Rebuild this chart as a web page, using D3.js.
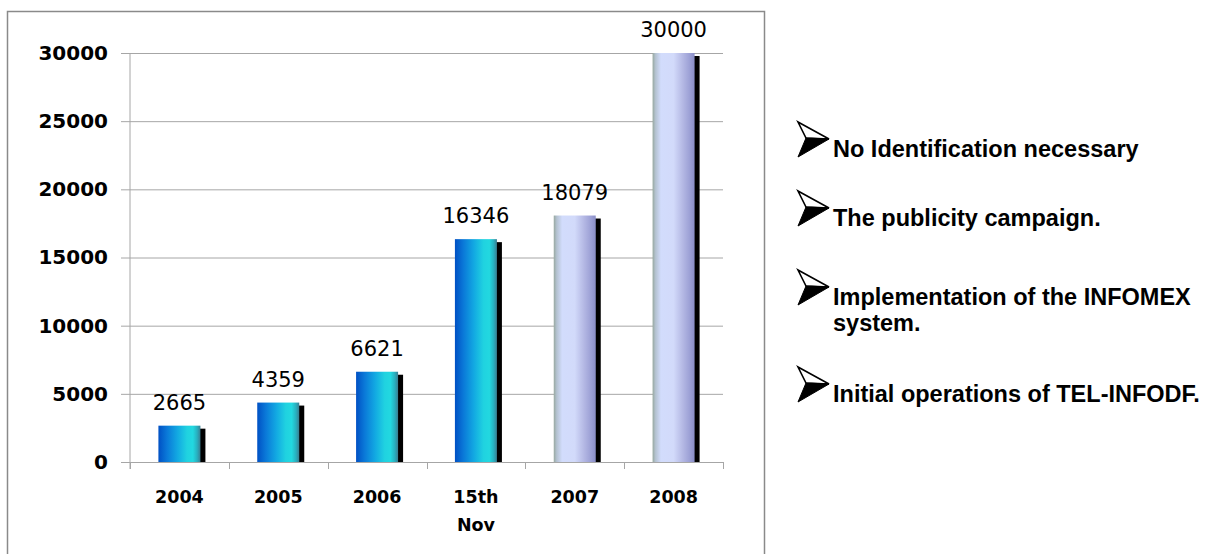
<!DOCTYPE html>
<html>
<head>
<meta charset="utf-8">
<script src="https://cdn.jsdelivr.net/npm/d3@7"></script>
<style>
  html, body { margin: 0; padding: 0; background: #fff; }
  svg { display: block; }
</style>
</head>
<body>
<svg id="chart" width="1224" height="554"></svg>
<script>
// Access-to-information requests per year
const categories = ["2004", "2005", "2006", "15th Nov", "2007", "2008"];
const requests = [2665, 4359, 6621, 16346, 18079, 30000];
const barGroups = ["early", "early", "early", "early", "late", "late"];
const yTickValues = [0, 5000, 10000, 15000, 20000, 25000, 30000];
const notes = [
  ["No Identification necessary"],
  ["The publicity campaign."],
  ["Implementation of the INFOMEX", "system."],
  ["Initial operations of TEL-INFODF."]
];

const svg = d3.select("#chart");
const defs = svg.append("defs");

// Cylinder-like horizontal gradients for the two bar groups
const gradients = {
  early: [
    [0, "#0050c4"], [0.2, "#0a78d8"], [0.45, "#12a8e2"], [0.68, "#20d2e0"],
    [0.82, "#22d8e0"], [0.92, "#28b0c0"], [1, "#3a7e92"]
  ],
  late: [
    [0, "#97a8a0"], [0.07, "#b4c2d0"], [0.2, "#d2dcfc"], [0.5, "#d2dafa"],
    [0.72, "#b4b8e4"], [0.9, "#9a9ed4"], [1, "#8a8ec6"]
  ]
};
Object.entries(gradients).forEach(([key, stops]) => {
  const g = defs.append("linearGradient")
    .attr("id", "grad-" + key)
    .attr("x1", "0%").attr("x2", "100%").attr("y1", "0%").attr("y2", "0%");
  stops.forEach(([o, c]) => g.append("stop").attr("offset", o).attr("stop-color", c));
});

// Chart frame
svg.append("rect")
  .attr("x", 7.5).attr("y", 11.5)
  .attr("width", 757).attr("height", 600)
  .attr("fill", "none").attr("stroke", "#8a8a8a").attr("stroke-width", 1.5);

const plotLeft = 130, plotRight = 723, plotTop = 53, plotBottom = 462;

const x = d3.scaleBand()
  .domain(categories)
  .range([plotLeft, plotRight])
  .paddingInner(0.575)
  .paddingOuter(0.2875);

const y = d3.scaleLinear()
  .domain([0, 30000])
  .range([plotBottom, plotTop]);

// Horizontal gridlines
const grid = svg.append("g")
  .attr("transform", `translate(${plotLeft},0)`)
  .call(d3.axisLeft(y).tickValues(yTickValues.filter(v => v > 0)).tickSize(-(plotRight - plotLeft)).tickFormat(""));
grid.select(".domain").remove();
grid.selectAll("line").attr("stroke", "#a6a6a6").attr("stroke-width", 1);

// Y axis
const yAxis = svg.append("g")
  .attr("transform", `translate(${plotLeft},0)`)
  .call(d3.axisLeft(y).tickValues(yTickValues).tickSize(9).tickPadding(13).tickFormat(d3.format("d")));
yAxis.select(".domain").attr("stroke", "#a6a6a6").attr("d", `M0,${plotTop}V${plotBottom + 7}`);
yAxis.selectAll("line").attr("stroke", "#a6a6a6");
yAxis.selectAll("text")
  .attr("fill", "#000")
  .style("font-family", "'DejaVu Sans', Verdana, sans-serif")
  .style("font-weight", "bold")
  .style("font-size", "20px");

// X axis line with ticks at category boundaries
const step = x.step();
const boundaries = categories.map(c => x(c) - step * x.paddingInner() / 2).concat([plotRight]);
svg.append("line")
  .attr("x1", plotLeft).attr("x2", plotRight)
  .attr("y1", plotBottom + 0.5).attr("y2", plotBottom + 0.5)
  .attr("stroke", "#a6a6a6");
svg.append("g").selectAll("line")
  .data(boundaries)
  .join("line")
  .attr("x1", d => Math.round(d) + 0.5).attr("x2", d => Math.round(d) + 0.5)
  .attr("y1", plotBottom).attr("y2", plotBottom + 7)
  .attr("stroke", "#a6a6a6");

// Category labels
const xLabels = svg.append("g").selectAll("text")
  .data(categories)
  .join("text")
  .attr("x", d => x(d) + x.bandwidth() / 2)
  .attr("y", 503)
  .attr("text-anchor", "middle")
  .style("font-family", "'DejaVu Sans', Verdana, sans-serif")
  .style("font-weight", "bold")
  .style("font-size", "17.5px")
  .attr("fill", "#000");
xLabels.each(function(d) {
  const words = d.split(" ");
  const t = d3.select(this);
  words.forEach((w, i) => {
    t.append("tspan")
      .attr("x", x(d) + x.bandwidth() / 2)
      .attr("dy", i === 0 ? 0 : 28)
      .text(w);
  });
});

const bars = categories.map((c, i) => ({ cat: c, value: requests[i], group: barGroups[i] }));

// Drop shadows
svg.append("g").selectAll("rect")
  .data(bars)
  .join("rect")
  .attr("x", d => x(d.cat) + 5)
  .attr("y", d => y(d.value) + 3)
  .attr("width", x.bandwidth())
  .attr("height", d => plotBottom - y(d.value) - 3)
  .attr("fill", "#000");

// Bars
svg.append("g").selectAll("rect")
  .data(bars)
  .join("rect")
  .attr("x", d => x(d.cat))
  .attr("y", d => y(d.value))
  .attr("width", x.bandwidth())
  .attr("height", d => plotBottom - y(d.value))
  .attr("fill", d => `url(#grad-${d.group})`);

// Value labels
svg.append("g").selectAll("text")
  .data(bars)
  .join("text")
  .attr("x", d => x(d.cat) + x.bandwidth() / 2)
  .attr("y", d => y(d.value) - 16)
  .attr("text-anchor", "middle")
  .style("font-family", "'DejaVu Sans', Verdana, sans-serif")
  .style("font-size", "21px")
  .attr("fill", "#000")
  .text(d => d.value);

// Bullet notes with arrowhead markers
const noteBaselines = [157, 226, 305, 402];
const lineGap = 26;
const noteX = 833;
const notesG = svg.append("g");
notes.forEach((lines, i) => {
  const base = noteBaselines[i];
  const ax = 798, top = base - 35, bottom = base, tipX = 829, tipY = base - 18, notchX = 806, notchY = base - 19;
  // upper half outlined, lower half filled
  notesG.append("path")
    .attr("d", `M${ax},${top}L${tipX},${tipY}L${notchX},${notchY}Z`)
    .attr("fill", "#fff").attr("stroke", "#000").attr("stroke-width", 1.6).attr("stroke-linejoin", "miter");
  notesG.append("path")
    .attr("d", `M${notchX},${notchY}L${tipX},${tipY}L${ax},${bottom}Z`)
    .attr("fill", "#000").attr("stroke", "#000").attr("stroke-width", 1);
  const t = notesG.append("text")
    .attr("x", noteX).attr("y", base)
    .style("font-family", "'Liberation Sans', Arial, sans-serif")
    .style("font-weight", "bold")
    .style("font-size", "23.5px")
    .attr("fill", "#000");
  lines.forEach((ln, j) => {
    t.append("tspan").attr("x", noteX).attr("dy", j === 0 ? 0 : lineGap).text(ln);
  });
});
</script>
</body>
</html>
